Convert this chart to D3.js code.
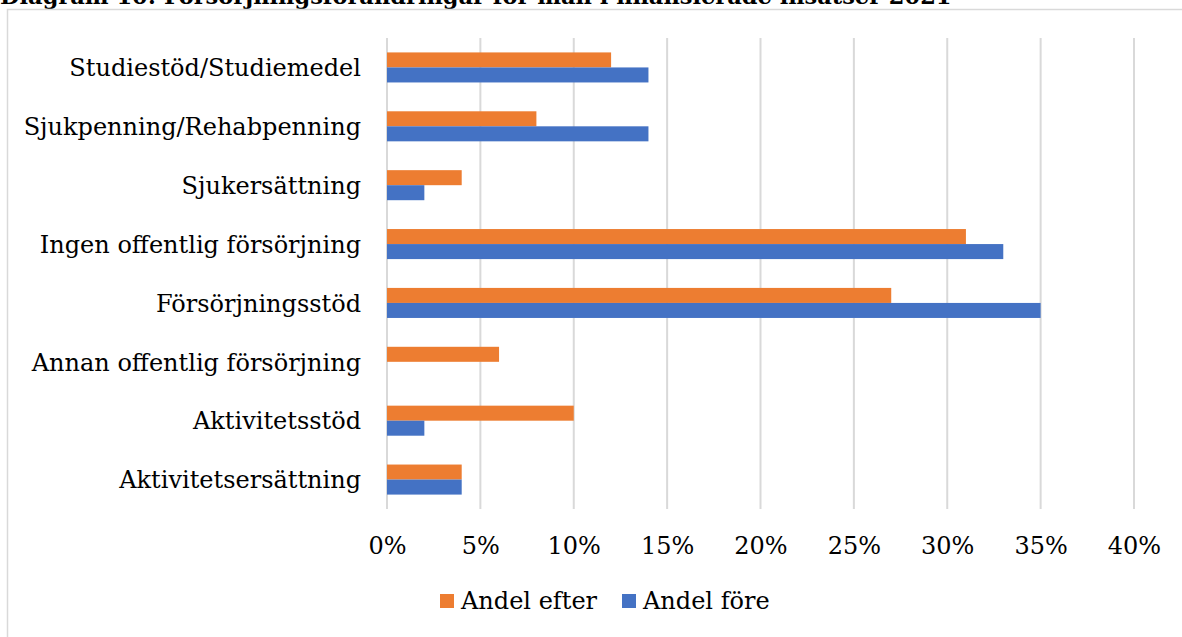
<!DOCTYPE html>
<html><head><meta charset="utf-8">
<script src="https://cdn.jsdelivr.net/npm/d3@7"></script>
<style>body{margin:0;background:#fff;} svg{display:block;}</style>
</head><body>
<script>
const title = "Diagram 10: Försörjningsförändringar för män i finansierade insatser 2021";
const categories = ["Studiestöd/Studiemedel","Sjukpenning/Rehabpenning","Sjukersättning","Ingen offentlig försörjning","Försörjningsstöd","Annan offentlig försörjning","Aktivitetsstöd","Aktivitetsersättning"];
const seriesNames = ["Andel efter","Andel före"];
const andelEfter = [0.12,0.08,0.04,0.31,0.27,0.06,0.10,0.04];
const andelFore  = [0.14,0.14,0.02,0.33,0.35,0.00,0.02,0.04];
const tickValues = [0,0.05,0.10,0.15,0.20,0.25,0.30,0.35,0.40];
const colors = ["#ED7D31","#4472C4"];

const W=1182,H=637;
const font = "'DejaVu Serif', serif";
const svg = d3.select("body").append("svg").attr("width",W).attr("height",H);

svg.append("text").attr("x",0).attr("y",4).attr("font-family",font).attr("font-weight","bold")
  .attr("font-size",22.5).attr("fill","#000").text(title);

// chart border
svg.append("path").attr("d",`M7.5,${H} V9.5 H${W}`).attr("fill","none").attr("stroke","#d9d9d9").attr("stroke-width",1.5);

const x = d3.scaleLinear().domain([0,0.40]).range([387,1134]);
const y = d3.scaleBand().domain(categories).range([38,509]).paddingInner(0).paddingOuter(0);
const sub = d3.scaleBand().domain(seriesNames).range([0,y.bandwidth()]).paddingInner(0).paddingOuter(0.96);

// gridlines
svg.append("g").selectAll("line").data(tickValues).join("line")
  .attr("x1",d=>x(d)).attr("x2",d=>x(d)).attr("y1",38).attr("y2",509)
  .attr("stroke","#d9d9d9").attr("stroke-width",2);

const data = categories.map((c,i)=>({c, vals:[andelEfter[i],andelFore[i]]}));
const g = svg.append("g");
data.forEach(d=>{
  d.vals.forEach((v,j)=>{
    if(v<=0) return;
    g.append("rect").attr("x",x(0)).attr("y",y(d.c)+sub(seriesNames[j]))
     .attr("width",x(v)-x(0)).attr("height",sub.bandwidth()).attr("fill",colors[j]);
  });
});

// y axis labels
const yAxis = d3.axisLeft(y).tickSize(0).tickPadding(26);
const ya = svg.append("g").attr("transform",`translate(${x(0)},1)`).call(yAxis);
ya.select(".domain").remove();
ya.selectAll("text").attr("font-family",font).attr("font-size",24).attr("fill","#000");

// x axis labels
const xAxis = d3.axisBottom(x).tickValues(tickValues).tickFormat(d3.format(".0%")).tickSize(0).tickPadding(0);
const xa = svg.append("g").attr("transform",`translate(0,537)`).call(xAxis);
xa.select(".domain").remove();
xa.selectAll("text").attr("font-family",font).attr("font-size",24).attr("fill","#000");

// legend
const leg = svg.append("g");
const legX = [440,622];
seriesNames.forEach((s,i)=>{
  leg.append("rect").attr("x",legX[i]).attr("y",594).attr("width",14).attr("height",14).attr("fill",colors[i]);
  leg.append("text").attr("x",legX[i]+21).attr("y",601).attr("dy","0.35em").attr("font-family",font).attr("font-size",24).attr("fill","#000").text(s);
});
</script>
</body></html>
